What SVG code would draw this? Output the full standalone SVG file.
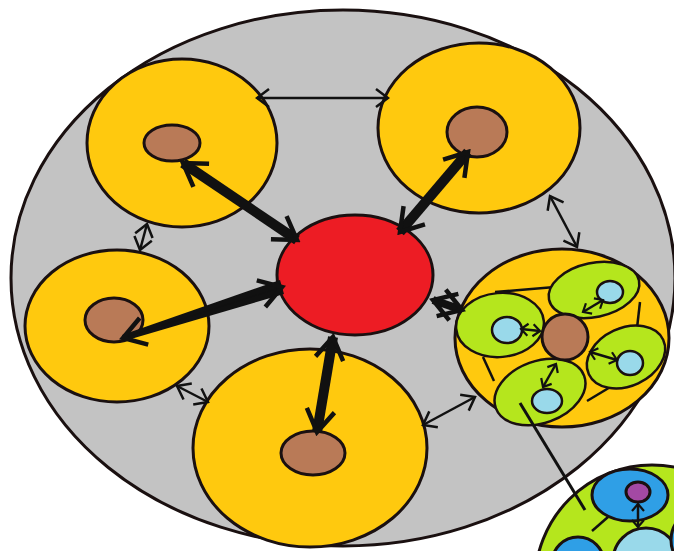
<svg xmlns="http://www.w3.org/2000/svg" width="674" height="551" viewBox="0 0 674 551">
<style>
.o{stroke:#1a1010;stroke-width:3}
.t{stroke:#1a1010;stroke-width:2.5}
.grey{fill:#C3C3C3}
.yel{fill:#FFC90E}
.brn{fill:#B97A57}
.red{fill:#ED1C24}
.grn{fill:#B5E61D}
.lbl{fill:#99D9EA}
.blu{fill:#2F9FE6}
.pur{fill:#A349A4}
.thin{stroke:#111;stroke-width:2.5;fill:none;marker-start:url(#ch);marker-end:url(#ch)}
.thick{stroke:#111;stroke-width:10;fill:none;marker-start:url(#th);marker-end:url(#th)}
.mini{stroke:#111;stroke-width:2.5;fill:none;marker-start:url(#mc);marker-end:url(#mc)}
.seg{stroke:#111;stroke-width:2.5;fill:none}
</style>
<defs>
<marker id="ch" viewBox="-16 -12 18 24" markerWidth="18" markerHeight="24" refX="0" refY="0" orient="auto-start-reverse" markerUnits="userSpaceOnUse"><path d="M-12,-9 L0,0 L-12,9" fill="none" stroke="#111" stroke-width="2.5"/></marker>
<marker id="th" viewBox="-28 -20 32 40" markerWidth="32" markerHeight="40" refX="0" refY="0" orient="auto-start-reverse" markerUnits="userSpaceOnUse"><path d="M-22,-14 L0,0 L-22,14" fill="none" stroke="#111" stroke-width="4.5"/></marker>
<marker id="mc" viewBox="-10 -8 12 16" markerWidth="12" markerHeight="16" refX="0" refY="0" orient="auto-start-reverse" markerUnits="userSpaceOnUse"><path d="M-7,-6 L0,0 L-7,6" fill="none" stroke="#111" stroke-width="2.2"/></marker>
</defs>
<rect width="674" height="551" fill="#ffffff"/>
<g id="outer"><ellipse class="grey o" cx="343" cy="278" rx="332" ry="268"/></g>
<g id="zoomed-cell">
<circle class="grn o" cx="652" cy="582" r="117"/>
<line class="seg" x1="592" y1="531" x2="608" y2="517"/>
<ellipse class="blu o" cx="630" cy="495" rx="38" ry="26"/>
<ellipse class="pur o" cx="638" cy="492" rx="12" ry="10"/>
<circle class="blu o" cx="578" cy="563" r="26"/>
<circle class="lbl o" cx="646" cy="561" r="33"/>
<circle class="blu o" cx="702" cy="540" r="31"/>
<line class="mini" x1="638" y1="527" x2="638" y2="504"/>
</g>
<g id="cell-top-left"><ellipse class="yel o" cx="182" cy="143" rx="95" ry="84"/><ellipse class="brn o" cx="172" cy="143" rx="28" ry="18"/></g>
<g id="cell-top-right"><ellipse class="yel o" cx="479" cy="128" rx="101" ry="85"/><ellipse class="brn o" cx="477" cy="132" rx="30" ry="25"/></g>
<g id="cell-left"><ellipse class="yel o" cx="117" cy="326" rx="92" ry="76"/><ellipse class="brn o" cx="114" cy="320" rx="29" ry="22"/></g>
<g id="cell-bottom"><ellipse class="yel o" cx="310" cy="448" rx="117" ry="99"/><ellipse class="brn o" cx="313" cy="453" rx="32" ry="22"/></g>
<g id="center"><ellipse class="red o" cx="355" cy="275" rx="78" ry="60"/></g>
<g id="cell-cluster">
<ellipse class="yel o" cx="562" cy="338" rx="107" ry="89"/>
<line class="seg" x1="495" y1="292" x2="555" y2="287"/>
<line class="seg" x1="640" y1="302" x2="637" y2="328"/>
<line class="seg" x1="483" y1="357" x2="494" y2="381"/>
<line class="seg" x1="587" y1="401" x2="617" y2="383"/>
<ellipse class="grn t" cx="594" cy="290" rx="46" ry="27" transform="rotate(-12 594 290)"/>
<ellipse class="grn t" cx="500" cy="325" rx="44" ry="32" transform="rotate(-5 500 325)"/>
<ellipse class="grn t" cx="626" cy="357" rx="41" ry="29" transform="rotate(-25 626 357)"/>
<ellipse class="grn t" cx="540" cy="392" rx="47" ry="31" transform="rotate(-20 540 392)"/>
<ellipse class="lbl t" cx="610" cy="292" rx="13" ry="11"/>
<ellipse class="lbl t" cx="507" cy="330" rx="15" ry="13"/>
<ellipse class="lbl t" cx="630" cy="363" rx="13" ry="12"/>
<ellipse class="lbl t" cx="547" cy="401" rx="15" ry="12"/>
<circle class="brn o" cx="565" cy="337" r="23"/>
</g>
<g id="connectors">
<line class="thick" x1="183" y1="163" x2="297" y2="240"/>
<line class="thick" x1="468" y1="152" x2="400" y2="232"/>
<polygon points="124,341 122,335 280,280 284,294" fill="#111"/>
<line class="thick" x1="123" y1="338" x2="282" y2="287" style="stroke-width:1"/>
<line class="thick" x1="333" y1="337" x2="317" y2="432"/>
<line class="thick" x1="433" y1="300" x2="462" y2="310" style="stroke-width:8"/>
<line class="thin" x1="257" y1="98" x2="388" y2="98"/>
<line class="thin" x1="147" y1="224" x2="140" y2="250"/>
<line class="thin" x1="177" y1="386" x2="208" y2="402"/>
<line class="thin" x1="423" y1="425" x2="475" y2="397"/>
<line class="thin" x1="550" y1="196" x2="577" y2="247"/>
<line class="mini" x1="583" y1="312" x2="603" y2="300"/>
<line class="mini" x1="540" y1="331" x2="521" y2="329"/>
<line class="mini" x1="590" y1="352" x2="617" y2="360"/>
<line class="mini" x1="556" y1="364" x2="543" y2="387"/>
<line class="seg" x1="520" y1="403" x2="585" y2="510" style="stroke-width:3"/>
</g>
</svg>
